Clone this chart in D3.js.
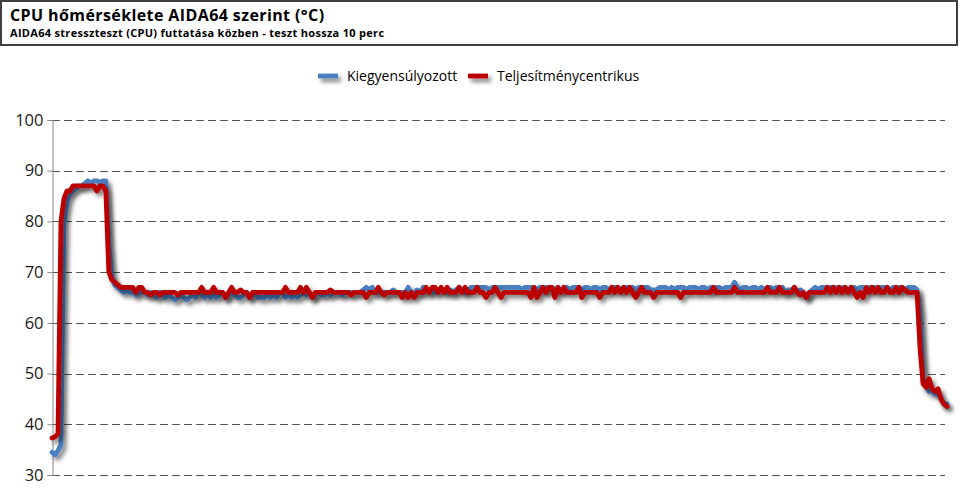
<!DOCTYPE html>
<html><head><meta charset="utf-8">
<script src="https://cdn.jsdelivr.net/npm/d3@7"></script>
<style>body{margin:0;background:#fff}svg{display:block}</style>
</head><body>
<svg id="c" width="960" height="500"></svg>
<script>
const title = "CPU hőmérséklete AIDA64 szerint (°C)";
const subtitle = "AIDA64 stresszteszt (CPU) futtatása közben - teszt hossza 10 perc";
const seriesNames = ["Kiegyensúlyozott", "Teljesítménycentrikus"];
const seriesColors = ["#4a7fc0", "#bb0000"];
const yTicks = [30, 40, 50, 60, 70, 80, 90, 100];

const blue = [
34.5,34,34.8,36,80,84,85.5,86,86.5,87,
87,87.5,88,87.5,88,88,87.7,88,88,76,
69,67.5,67,66.5,66,66.5,66,66,65.5,66,
66,66,65.5,66,65.5,65,66,65.5,65,65.5,65,
64.5,65,65.5,65,64.5,65,65.5,65,66,65.5,
65,65.5,65,66,65,65.5,66,65,65.5,66,
65.5,65,65,65.5,66,65,65.5,65.5,65,65,
65,65.5,65,65.5,65,66,66,65,65.5,65,
65.5,65,65.5,66,65.5,66,65,65.5,66,65.5,
65.5,66,65.5,66,66,66,65.5,66,66,66,
66,66,66,66.5,67,66.5,67,66,66,66,
66,66,66,66.5,66,66,66,66,67,66,
66,66.5,66,67,66.5,66,66.5,66,66.5,66.5,
66.5,66,66.5,66,66.5,67,66.5,66,66.5,67,
67,67,67,67,67,66.5,67,67,67,67,
67,67,67,67,67,67,66.5,67,67,67,
67,66.5,67,66.5,67,66.5,67,66.5,67,66.5,
66.5,67,66.5,67,67,67,66.5,67,67,66.5,
67,67,66.5,67,67,66.5,67,67,67,66.5,
67,67,66.5,67,66.5,67,66.5,67,67,66.5,
66.5,66.5,67,67,67,66.5,67,66.5,67,67,
67,66.5,67,67,67,66.5,67,67,66.5,67,
66.5,67,67,66.5,67,67,67,68,67,66.5,
67,67,66.5,67,67,66.5,67,66.5,67,67,
66.5,67,66.5,67,66,66.5,66.5,67,66,66.5,
66,65,66,66.5,67,66.5,67,67,66.5,67,
67,67,66.5,67,67,66.5,67,67,66.5,67,
67,66.5,67,67,67,66.5,67,67,67,66.5,
67,66.5,67,67,66.5,67,67,67,66.5,62,
49,47.5,46.5,46.5,46,46,45,44,44
];

const red = [
37.3,37.5,38.2,80,84.5,86,86,87,87,87,
87,87,87,87,87,86,87,87,86,70,
68.5,68,67.5,67,67,67,67,67,66,67,
67,66,66,65.5,66,66,65.5,66,66,66,66,
66,65.5,66,66,66,66,66,66,66,67,
66,66,66,67,66,66,66,65,66,67,
66,66,66.5,66,66,65,66,66,66,66,
66,66,66,66,66,66,66,67,66,66,
66,66,67,66,67,66,65,66,66,66,
66,66,66.5,66,66,66,66,66,66,65.5,
66,66,66,66,65,66,66,66,67,66,
65.5,66,66,66,66,66,65,66,65,66,
65,66,66,66,67,66,67,67,66,67,
66,67,66,66,66,67,66,67,66,66,
66,67,66,66,65,66,66,67,66,65,
66,66,66,66,66,66,66,66,66,65,
67,65,66,67,66,67,67,65,67,66,
67,66,66,66,66,67,65,66,66,66,
66,66,65,66,66,66,67,66,67,66,
67,66,67,66,65,66,67,66,66,66,
65,66,66,66,66,66,66,66,66,65,
66,66,66,66,66,66,66,66,66,66,
67,66,66,66,66,66,66,67,66,66,
66,66,66,66,66,66,66,66,67,66,
66,66,67,66,66,66,66,67,66,65.5,
66,65,66,66,66,66,66,66,67,66,
67,66,67,66,67,66,67,66,65,66,
65,67,66,67,66,67,66,66,67,66,
66,67,66,67,66.5,66,66,66,66,55,
48,47.3,49,47,46.5,47,45,44,43.5
];

const svg = d3.select("#c");
const defs = svg.append("defs");
const f = defs.append("filter").attr("id","sh").attr("filterUnits","userSpaceOnUse")
  .attr("x",0).attr("y",0).attr("width",960).attr("height",500);
f.append("feDropShadow").attr("dx",3).attr("dy",3.5).attr("stdDeviation",2)
  .attr("flood-color","#000").attr("flood-opacity",0.5);

// title box
svg.append("rect").attr("x",1).attr("y",1).attr("width",956).attr("height",44)
  .attr("fill","#fff").attr("stroke","#404040").attr("stroke-width",2);
svg.append("text").attr("x",10).attr("y",20.5).text(title)
  .attr("font-family","Open Sans").attr("font-weight","bold").attr("font-size",16)
  .attr("letter-spacing",0.4).attr("fill","#000");
svg.append("text").attr("x",10).attr("y",37).text(subtitle)
  .attr("font-family","Open Sans").attr("font-weight","bold").attr("font-size",11)
  .attr("letter-spacing",0.3).attr("fill","#000");

const pLeft = 52, pRight = 945, pTop = 120, pBottom = 475;
const y = d3.scaleLinear().domain([30,100]).range([pBottom, pTop]);
const x = d3.scaleLinear().domain([0, red.length-1]).range([pLeft, 947]);

// grid
const g = svg.append("g");
g.selectAll("line.grid").data(yTicks).join("line")
  .attr("x1",pLeft).attr("x2",pRight)
  .attr("y1",d=>Math.round(y(d))+0.5).attr("y2",d=>Math.round(y(d))+0.5)
  .attr("stroke","#555").attr("stroke-width",1).attr("stroke-dasharray","8,4");

// y axis
const ax = svg.append("g").attr("transform",`translate(${pLeft+0.5},0)`)
  .call(d3.axisLeft(y).tickValues(yTicks).tickSize(5).tickPadding(4).tickFormat(d3.format("d")));
ax.select(".domain").attr("stroke","#888");
ax.selectAll(".tick line").attr("stroke","#888");
ax.selectAll(".tick text").attr("font-family","Open Sans").attr("font-size",16.5).attr("fill","#1a1a1a");

// lines
const line = d3.line().x((d,i)=>x(i)).y(d=>y(d));
[blue, red].forEach((s,k)=>{
  svg.append("path").datum(s).attr("d",line).attr("fill","none")
    .attr("stroke",seriesColors[k]).attr("stroke-width",4.8)
    .attr("stroke-linejoin","round").attr("stroke-linecap","round")
    .attr("filter","url(#sh)");
});

// legend
const legX = [318, 468];
seriesNames.forEach((n,k)=>{
  svg.append("line").attr("x1",legX[k]).attr("x2",legX[k]+20).attr("y1",76).attr("y2",76)
    .attr("stroke",seriesColors[k]).attr("stroke-width",4.8).attr("filter","url(#sh)");
  svg.append("text").attr("x",legX[k]+29).attr("y",81).text(n)
    .attr("font-family","Open Sans").attr("font-size",14).attr("fill","#000");
});
</script>
</body></html>
